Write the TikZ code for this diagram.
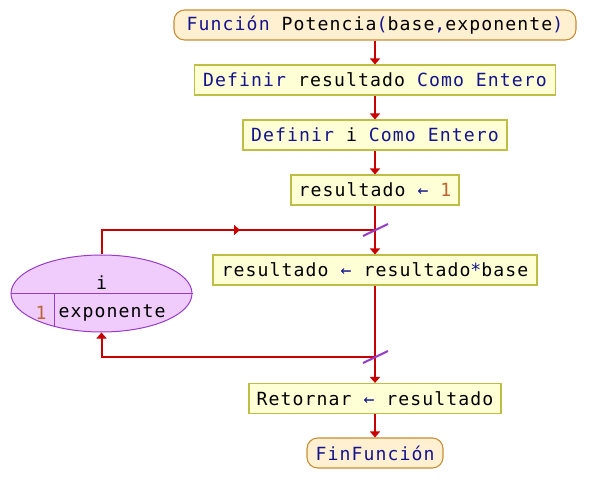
\documentclass[tikz,border=0pt]{standalone}
\usepackage{fontspec}
\setmonofont[LetterSpace=6]{DejaVu Sans Mono}
\usetikzlibrary{arrows.meta,shapes.geometric}
\definecolor{kwblue}{RGB}{20,20,140}
\definecolor{numbrown}{RGB}{190,100,50}
\definecolor{boxfill}{RGB}{255,255,214}
\definecolor{boxdraw}{RGB}{190,190,70}
\definecolor{termfill}{RGB}{255,240,210}
\definecolor{termdraw}{RGB}{200,140,50}
\definecolor{flowred}{RGB}{200,0,0}
\definecolor{loopfill}{RGB}{240,204,252}
\definecolor{loopdraw}{RGB}{150,60,200}
\newcommand\kwd[1]{\textcolor{kwblue}{#1}}
\newcommand\numc[1]{\textcolor{numbrown}{#1}}
\tikzset{
  procbox/.style={rectangle, draw=boxdraw, fill=boxfill, line width=0.8pt,
    minimum height=22.5pt, inner sep=0pt},
  termbox/.style={rectangle, rounded corners=8pt, draw=termdraw, fill=termfill,
    line width=0.8pt, minimum height=22.5pt, inner sep=0pt},
  flow/.style={draw=flowred, line width=1.5pt},
  flowarr/.style={flow, -{Triangle[length=4.5pt,width=7.5pt]}},
  slashmark/.style={draw=loopdraw, line width=1.5pt},
  loopell/.style={ellipse, draw=loopdraw, fill=loopfill, line width=0.75pt,
    minimum width=135.75pt, minimum height=57.75pt, inner sep=0pt},
  lbl/.style={inner sep=0pt}
}
\begin{document}
\begin{tikzpicture}[x=0.75pt,y=-0.75pt,font=\ttfamily\fontsize{13.6}{16}\selectfont]
\useasboundingbox (0,0) rectangle (601,503);
\node[termbox, minimum width=301.5pt] (start) at (375,25)
  {\kwd{Función} Potencia\kwd{(}base\kwd{,}exponente\kwd{)}};
\node[procbox, minimum width=270.75pt] (b2) at (375,80)
  {\kwd{Definir} resultado \kwd{Como Entero}};
\node[procbox, minimum width=198pt] (b3) at (375,135)
  {\kwd{Definir} i \kwd{Como Entero}};
\node[procbox, minimum width=126pt] (b4) at (375,190)
  {resultado \kwd{←} \numc{1}};
\node[procbox, minimum width=243pt] (b5) at (375,270)
  {resultado \kwd{←} resultado\kwd{*}base};
\node[procbox, minimum width=189pt] (b6) at (375,398.5)
  {Retornar \kwd{←} resultado};
\node[termbox, minimum width=102pt] (fin) at (375,453)
  {\kwd{FinFunción}};

\node[loopell] (ell) at (101.5,293.5) {};
\draw[draw=loopdraw, line width=0.75pt] (ell.west) -- (ell.east);
\coordinate (dv) at (54,293.5);
\coordinate (dvb) at (54,326.8);
\draw[draw=loopdraw, line width=0.75pt] (dv) -- (dvb);
\node[lbl] (vi) at (101.5,283) {i};
\node[lbl, text=numbrown] (v1) at (41,313) {1};
\node[lbl] (vexp) at (112,313) {exponente};

\coordinate (j1) at (375,230);
\coordinate (j2) at (375,357);
\coordinate (tmid) at (240,230);
\coordinate (lt) at (101.5,230);
\coordinate (lb) at (101.5,357);

\draw[flowarr] (start) -- (b2);
\draw[flowarr] (b2) -- (b3);
\draw[flowarr] (b3) -- (b4);
\draw[flowarr] (b4) -- (b5);
\draw[flowarr] (b5) -- (b6);
\draw[flowarr] (b6) -- (fin);

\draw[flow] (ell.north) -- (lt) -- (tmid);
\draw[flowarr] (lt) -- (tmid);
\draw[flow] (tmid) -- (j1);
\draw[flowarr] (j2) -- (lb) -- (ell.south);

\draw[slashmark] (j1) ++(-12,6) -- ++(25,-12);
\draw[slashmark] (j2) ++(-12,6) -- ++(25,-12);
\end{tikzpicture}
\end{document}
